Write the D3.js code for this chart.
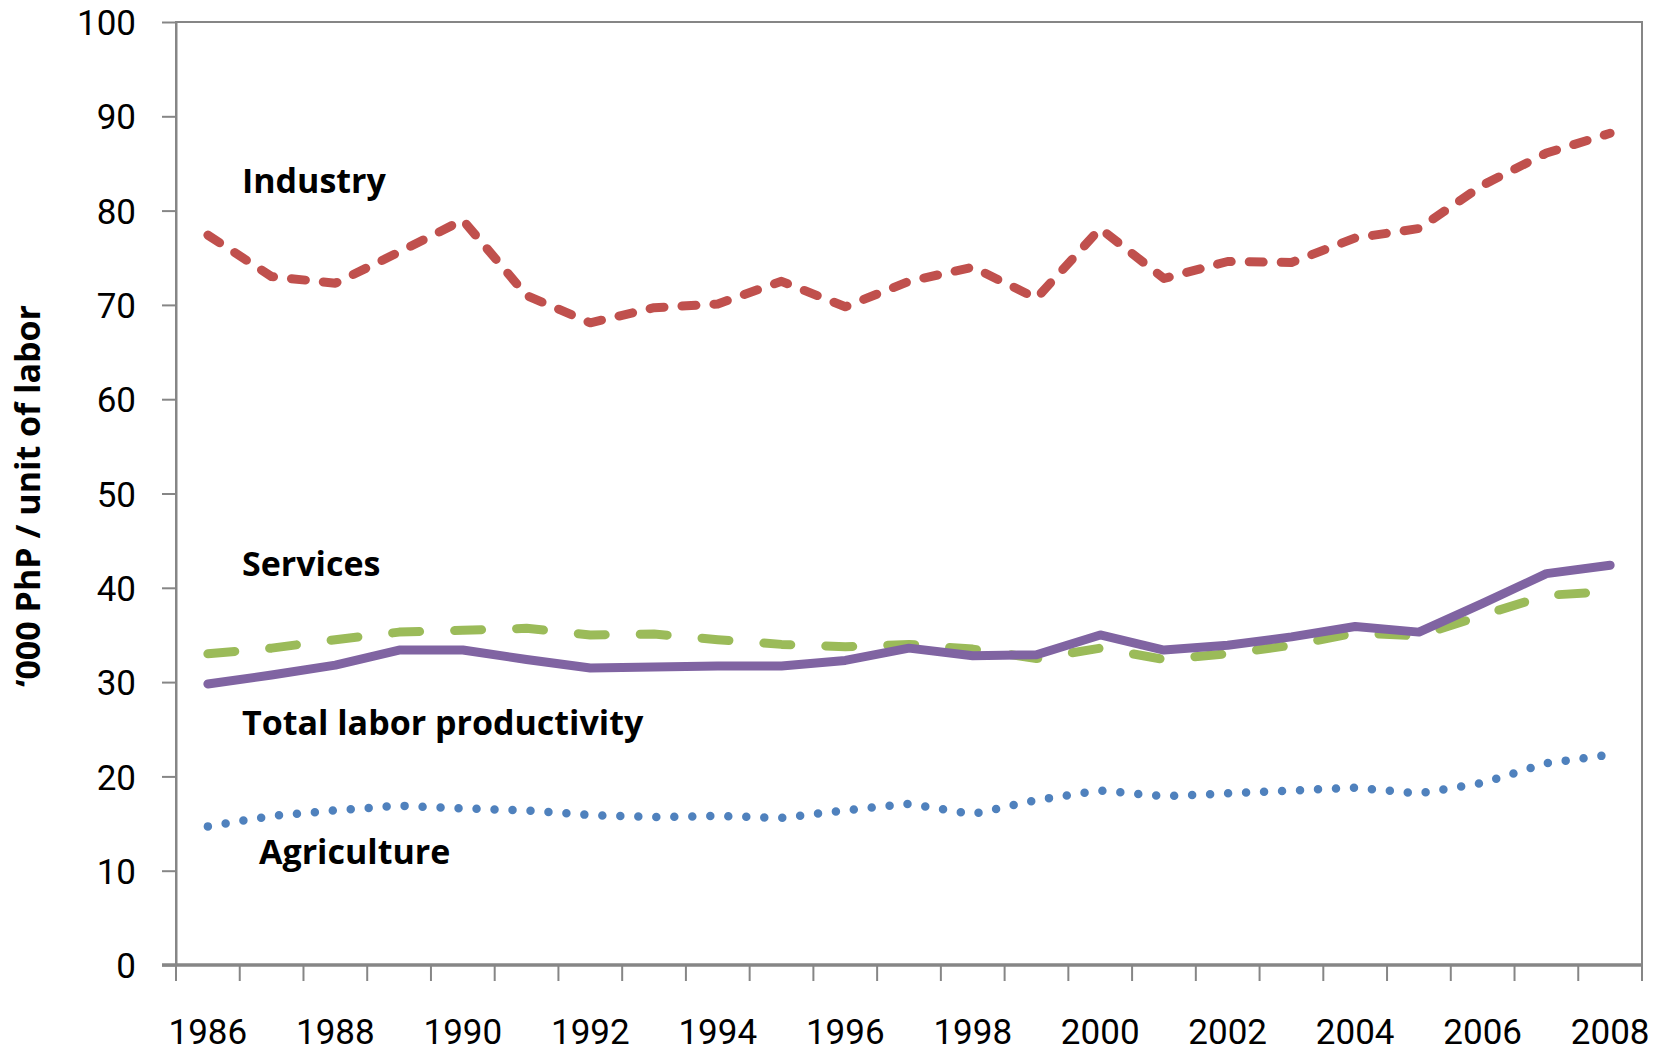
<!DOCTYPE html>
<html>
<head>
<meta charset="utf-8">
<script src="https://cdn.jsdelivr.net/npm/d3@7"></script>
<style>
  body { margin: 0; background: #fff; }
  svg { display: block; font-family: "Open Sans", sans-serif; }
</style>
</head>
<body>
<svg id="chart" width="1672" height="1053"></svg>
<script>
// Data ('000 PhP per unit of labor)
const years = [1986, 1987, 1988, 1989, 1990, 1991, 1992, 1993, 1994, 1995, 1996, 1997,
               1998, 1999, 2000, 2001, 2002, 2003, 2004, 2005, 2006, 2007, 2008];
const industry = [77.4, 73.0, 72.3, 75.6, 79.0, 71.0, 68.1, 69.7, 70.1, 72.5, 69.8, 72.5,
                  74.0, 70.7, 78.1, 72.8, 74.6, 74.5, 77.1, 78.1, 82.7, 86.1, 88.2];
const services = [33.0, 33.6, 34.5, 35.3, 35.5, 35.7, 35.0, 35.1, 34.5, 34.0, 33.75, 34.0,
                  33.5, 32.5, 33.6, 32.4, 33.0, 33.9, 35.2, 34.9, 37.1, 39.2, 39.6];
const totalLabor = [29.8, 30.75, 31.8, 33.4, 33.4, 32.4, 31.5, 31.6, 31.7, 31.7, 32.3, 33.6,
                    32.8, 32.9, 35.0, 33.4, 33.9, 34.8, 35.9, 35.3, 38.35, 41.5, 42.4];
const agriculture = [14.7, 15.8, 16.4, 16.9, 16.6, 16.4, 15.9, 15.7, 15.8, 15.6, 16.4, 17.1,
                     16.0, 17.5, 18.5, 17.9, 18.2, 18.5, 18.8, 18.2, 19.3, 21.4, 22.3];
const yTicks = [0, 10, 20, 30, 40, 50, 60, 70, 80, 90, 100];
const xTickLabels = [1986, 1988, 1990, 1992, 1994, 1996, 1998, 2000, 2002, 2004, 2006, 2008];

const svg = d3.select("#chart");
const W = 1672, H = 1053;
const margin = { left: 176, right: 30, top: 22, bottom: 88 };
const axisColor = "#868686";
const tickFont = "Roboto, 'Open Sans', sans-serif";

const x = d3.scaleBand()
    .domain(years)
    .range([margin.left, W - margin.right])
    .padding(0);

const y = d3.scaleLinear()
    .domain([0, 100])
    .range([H - margin.bottom, margin.top]);

// Plot border (top + right)
svg.append("rect")
    .attr("x", margin.left)
    .attr("y", margin.top)
    .attr("width", W - margin.right - margin.left)
    .attr("height", H - margin.bottom - margin.top)
    .attr("fill", "none")
    .attr("stroke", axisColor)
    .attr("stroke-width", 2);

// Y axis
const yAxis = svg.append("g")
    .attr("transform", `translate(${margin.left},0)`)
    .call(d3.axisLeft(y).tickValues(yTicks).tickSize(14).tickSizeOuter(0).tickPadding(26));
yAxis.attr("font-family", tickFont);
yAxis.select(".domain").attr("stroke", axisColor).attr("stroke-width", 2);
yAxis.selectAll(".tick line").attr("stroke", axisColor).attr("stroke-width", 2);
yAxis.selectAll(".tick text")
    .attr("fill", "#000")
    .attr("dy", "0.36em")
    .style("font-size", "35px");

// X axis labels (every other year)
const xAxis = svg.append("g")
    .attr("transform", `translate(0,${y(0)})`)
    .call(d3.axisBottom(x).tickValues(xTickLabels).tickSize(0));
xAxis.attr("font-family", tickFont);
xAxis.select(".domain").remove();
xAxis.selectAll(".tick text")
    .attr("fill", "#000")
    .attr("y", 79)
    .attr("dy", 0)
    .style("font-size", "35px");

// X tick marks at category boundaries
const boundaries = years.map(d => x(d)).concat([x.range()[1]]);
svg.append("g")
    .selectAll("line")
    .data(boundaries)
    .join("line")
    .attr("x1", d => d)
    .attr("x2", d => d)
    .attr("y1", y(0))
    .attr("y2", y(0) + 16)
    .attr("stroke", axisColor)
    .attr("stroke-width", 2);

// X axis baseline (thicker)
svg.append("line")
    .attr("x1", margin.left - 14)
    .attr("x2", x.range()[1])
    .attr("y1", y(0))
    .attr("y2", y(0))
    .attr("stroke", axisColor)
    .attr("stroke-width", 3.5);

// Y axis title
svg.append("text")
    .attr("transform", "translate(40,496) rotate(-90)")
    .attr("text-anchor", "middle")
    .style("font-size", "34px")
    .style("font-weight", "bold")
    .attr("fill", "#000")
    .text("\u2018000 PhP / unit of labor");

// Lines
const line = d3.line()
    .x((d, i) => x(years[i]) + x.bandwidth() / 2)
    .y(d => y(d));

const series = [
    { values: agriculture, color: "#4F81BD", width: 8.5, dash: "0,18" },
    { values: industry, color: "#C0504D", width: 9, dash: "14,18" },
    { values: services, color: "#9BBB59", width: 9, dash: "27,35" },
    { values: totalLabor, color: "#8064A2", width: 9, dash: null }
];

svg.append("g")
    .selectAll("path")
    .data(series)
    .join("path")
    .attr("d", d => line(d.values))
    .attr("fill", "none")
    .attr("stroke", d => d.color)
    .attr("stroke-width", d => d.width)
    .attr("stroke-linecap", "round")
    .attr("stroke-linejoin", "round")
    .attr("stroke-dasharray", d => d.dash);

// Series labels
const labels = [
    { text: "Industry", dx: 66, v: 81.9 },
    { text: "Services", dx: 66, v: 41.25 },
    { text: "Total labor productivity", dx: 66, v: 24.4 },
    { text: "Agriculture", dx: 83, v: 10.7 }
];
svg.append("g")
    .selectAll("text")
    .data(labels)
    .join("text")
    .attr("x", d => margin.left + d.dx)
    .attr("y", d => y(d.v))
    .style("font-size", "34px")
    .style("font-weight", "bold")
    .attr("fill", "#000")
    .text(d => d.text);
</script>
</body>
</html>
